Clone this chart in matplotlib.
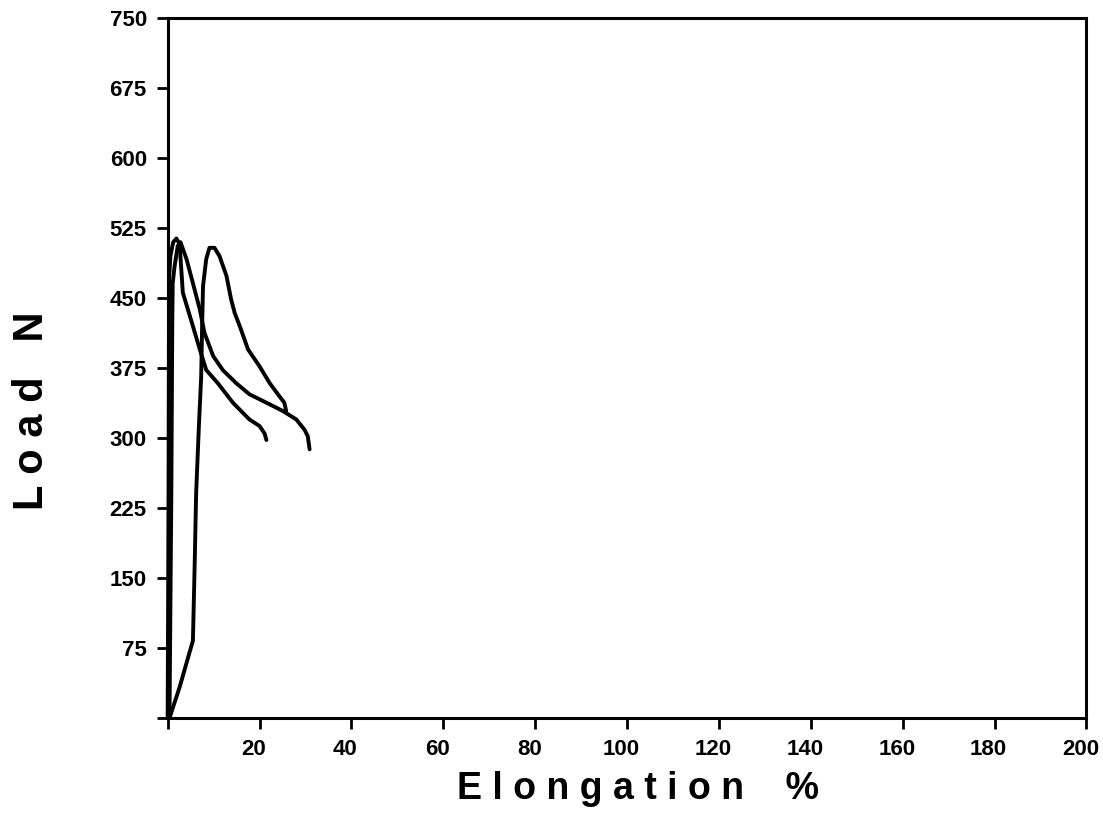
import matplotlib
matplotlib.use("Agg")
import matplotlib.pyplot as plt
import matplotlib.transforms as mtransforms

# ── data (elongation %, load N) ──────────────────────────────────────────────
spec1_x = [0.0, 0.1, 0.2, 0.3, 0.6, 1.2, 1.9, 2.6, 3.3, 5.5, 7.0, 8.4, 10.9,
           14.2, 17.8, 20.0, 21.1, 21.5]
spec1_y = [0, 120, 250, 470, 495, 510, 514, 508, 456, 420, 395, 373, 359,
           338, 320, 313, 305, 298]

spec2_x = [0.4, 0.8, 1.0, 1.1, 1.5, 2.2, 2.8, 4.1, 5.5, 7.0, 8.0, 9.9, 12.0,
           14.9, 17.8, 21.5, 25.1, 28.0, 29.8, 30.5, 30.9]
spec2_y = [0, 241, 420, 466, 484, 506, 510, 492, 466, 438, 413, 388, 373,
           359, 347, 338, 329, 320, 309, 302, 288]

spec3_x = [0.4, 2.6, 5.5, 5.9, 6.2, 6.8, 7.3, 7.5, 7.7, 8.4, 9.1, 10.2, 11.3,
           12.8, 13.8, 14.6, 15.7, 17.5, 20.0, 22.2, 24.3, 25.4, 25.8]
spec3_y = [0, 33, 83, 169, 241, 313, 366, 420, 463, 492, 504, 504, 495,
           474, 449, 434, 420, 395, 377, 359, 345, 338, 329]

x_ticks = list(range(0, 201, 20))
x_labels = [''] + [str(v) for v in x_ticks[1:]]
y_ticks = list(range(0, 751, 75))
y_labels = [''] + [str(v) for v in y_ticks[1:]]

# ── figure ───────────────────────────────────────────────────────────────────
fig = plt.figure(figsize=(11.03, 8.32), dpi=100)
ax = fig.add_axes([0.152, 0.137, 0.833, 0.841])

for xs, ys in [(spec1_x, spec1_y), (spec2_x, spec2_y), (spec3_x, spec3_y)]:
    ax.plot(xs, ys, color='black', lw=2.8, solid_joinstyle='round',
            solid_capstyle='round', clip_on=False)

ax.set_xlim(0, 200)
ax.set_ylim(0, 750)
ax.set_xticks(x_ticks)
ax.set_xticklabels(x_labels)
ax.set_yticks(y_ticks)
ax.set_yticklabels(y_labels)

for s in ax.spines.values():
    s.set_linewidth(2.2)
ax.tick_params(direction='out', length=8, width=2, pad=7)

# tick labels: bold, x labels nudged a little left like the scan
shift = mtransforms.ScaledTranslation(-6 / 100, 0, fig.dpi_scale_trans)
for lab in ax.get_xticklabels():
    lab.set_transform(lab.get_transform() + shift)
for lab in ax.get_xticklabels() + ax.get_yticklabels():
    lab.set_fontfamily(['Liberation Sans', 'DejaVu Sans'])
    lab.set_fontweight('bold')
    lab.set_fontsize(16)

# axis titles, letter-spaced
fig.text(0.578, 0.052, 'E l o n g a t i o n    %', fontsize=27,
         fontweight='bold', family=['Liberation Sans', 'DejaVu Sans'],
         ha='center', va='center')
fig.text(0.029, 0.506, 'L o a d   N', fontsize=30, rotation=90,
         fontweight='bold', family=['Liberation Sans', 'DejaVu Sans'],
         ha='center', va='center')

fig.savefig('out.png', dpi=100)
